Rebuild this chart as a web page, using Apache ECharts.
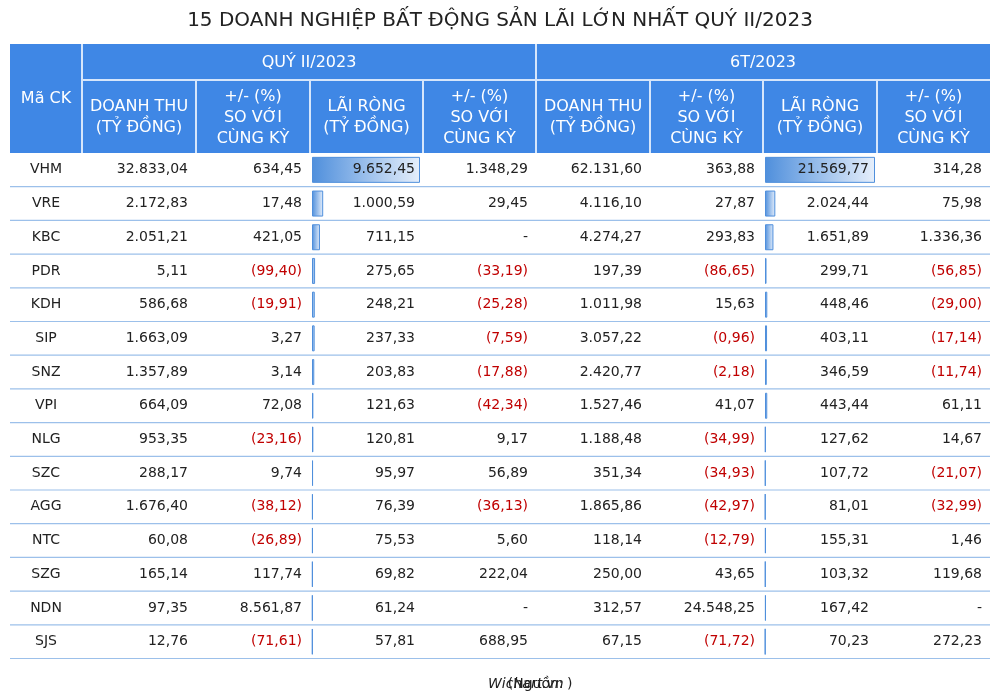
<!DOCTYPE html>
<html><head><meta charset="utf-8">
<script src="https://cdn.jsdelivr.net/npm/echarts@6/dist/echarts.min.js"></script>
<style>html,body{margin:0;background:#fff}#c{width:1000px;height:696px}</style></head>
<body><div id="c"></div>
<script>
const codes=['VHM','VRE','KBC','PDR','KDH','SIP','SNZ','VPI','NLG','SZC','AGG','NTC','SZG','NDN','SJS'];
const q2Revenue=['32.833,04','2.172,83','2.051,21','5,11','586,68','1.663,09','1.357,89','664,09','953,35','288,17','1.676,40','60,08','165,14','97,35','12,76'];
const q2RevChg=['634,45','17,48','421,05','(99,40)','(19,91)','3,27','3,14','72,08','(23,16)','9,74','(38,12)','(26,89)','117,74','8.561,87','(71,61)'];
const q2Profit=[9652.45,1000.59,711.15,275.65,248.21,237.33,203.83,121.63,120.81,95.97,76.39,75.53,69.82,61.24,57.81];
const q2ProfitChg=['1.348,29','29,45','-','(33,19)','(25,28)','(7,59)','(17,88)','(42,34)','9,17','56,89','(36,13)','5,60','222,04','-','688,95'];
const h1Revenue=['62.131,60','4.116,10','4.274,27','197,39','1.011,98','3.057,22','2.420,77','1.527,46','1.188,48','351,34','1.865,86','118,14','250,00','312,57','67,15'];
const h1RevChg=['363,88','27,87','293,83','(86,65)','15,63','(0,96)','(2,18)','41,07','(34,99)','(34,93)','(42,97)','(12,79)','43,65','24.548,25','(71,72)'];
const h1Profit=[21569.77,2024.44,1651.89,299.71,448.46,403.11,346.59,443.44,127.62,107.72,81.01,155.31,103.32,167.42,70.23];
const h1ProfitChg=['314,28','75,98','1.336,36','(56,85)','(29,00)','(17,14)','(11,74)','61,11','14,67','(21,07)','(32,99)','1,46','119,68','-','272,23'];
const title='15 DOANH NGHIỆP BẤT ĐỘNG SẢN LÃI LỚN NHẤT QUÝ II/2023';
const groupHeaders=['QUÝ II/2023','6T/2023'];
const colHeaders=['DOANH THU\n(TỶ ĐỒNG)','+/- (%)\nSO VỚI\nCÙNG KỲ','LÃI RÒNG\n(TỶ ĐỒNG)','+/- (%)\nSO VỚI\nCÙNG KỲ','DOANH THU\n(TỶ ĐỒNG)','+/- (%)\nSO VỚI\nCÙNG KỲ','LÃI RÒNG\n(TỶ ĐỒNG)','+/- (%)\nSO VỚI\nCÙNG KỲ'];
const source='(Nguồn: ';const sourceIt='Wichart.vn';

const fmt=v=>{let [i,d]=v.toFixed(2).split('.');return i.replace(/\B(?=(\d{3})+(?!\d))/g,'.')+','+d;};
const colX=[10,82,196,310,423,536,650,763,877,990];
const T=153,RH=33.7,HB=44,HM=80;
const F='Tahoma, "DejaVu Sans", Verdana, sans-serif';
const cols=[q2Revenue,q2RevChg,q2Profit.map(fmt),q2ProfitChg,h1Revenue,h1RevChg,h1Profit.map(fmt),h1ProfitChg];
const HC='#3f87e5';
const chart=echarts.init(document.getElementById('c'));
function cells(api){
  const c=(x,y)=>api.coord([x,y]);
  const ch=[];
  const rect=(x0,y0,x1,y1,fill)=>{const a=c(x0,y0),b=c(x1,y1);ch.push({type:'rect',shape:{x:a[0],y:a[1],width:b[0]-a[0],height:b[1]-a[1]},style:{fill}});};
  const txt=(s,x,y,o)=>{const p=c(x,y);ch.push({type:'text',x:p[0],y:p[1],z2:10,style:Object.assign({text:s,font:'14px '+F,fill:'#222',align:'center',verticalAlign:'middle'},o)});};
  const line=(x0,y0,x1,y1,col,w)=>{const a=c(x0,y0),b=c(x1,y1);ch.push({type:'line',shape:{x1:a[0],y1:a[1],x2:b[0],y2:b[1]},style:{stroke:col,lineWidth:w||1}});};
  rect(colX[0],HB,colX[9],T,HC);
  line(colX[1],HM,colX[9],HM,'#d6e6fb',2);
  [1,5].forEach(i=>line(colX[i],HB,colX[i],T,'#d6e6fb',2));
  [2,3,4,6,7,8].forEach(i=>line(colX[i],HM,colX[i],T,'#d6e6fb',2));
  txt('Mã CK',(colX[0]+colX[1])/2,(HB+T)/2,{fill:'#fff',font:'16px '+F});
  txt(groupHeaders[0],(colX[1]+colX[5])/2,(HB+HM)/2+1,{fill:'#fff',font:'16px '+F});
  txt(groupHeaders[1],(colX[5]+colX[9])/2,(HB+HM)/2+1,{fill:'#fff',font:'16px '+F});
  colHeaders.forEach((h,i)=>txt(h,(colX[i+1]+colX[i+2])/2,(HM+T)/2+1,{fill:'#fff',font:'16px '+F,lineHeight:21}));
  for(let r=0;r<15;r++){
    const yc=T+RH*(r+0.5);
    line(colX[0],T+RH*(r+1),colX[9],T+RH*(r+1),'#9cc0ea',1.2);
    txt(codes[r],46,yc);
    cols.forEach((col,i)=>{const s=col[r];txt(s,colX[i+2]-8,yc,{align:'right',fill:s[0]==='('?'#c00000':'#222'});});
  }
  return {type:'group',children:ch};
}
const grids=[{left:0,top:0,width:1000,height:696}];
const barGrid=(left,w)=>({left,width:w,top:T,height:RH*15});
grids.push(barGrid(312,108),barGrid(765,110));
const barStyle={color:new echarts.graphic.LinearGradient(0,0,1,0,[{offset:0,color:'#4f8fdc'},{offset:1,color:'#e6effb'}]),borderColor:'#4f8fdc',borderWidth:1};
chart.setOption({
  animation:false,
  title:{text:title,left:'center',top:6,textStyle:{fontFamily:F,fontSize:20,fontWeight:'normal',color:'#222'}},
  graphic:[{type:'text',right:432,top:677,style:{text:source,font:'14px '+F,fill:'#222'}},
           {type:'text',left:488,top:677,style:{text:sourceIt,font:'italic 14px '+F,fill:'#222'}},
           {type:'text',left:567,top:677,style:{text:')',font:'14px '+F,fill:'#222'}}],
  grid:grids,
  xAxis:[{gridIndex:0,type:'value',min:0,max:1000,show:false},
         {gridIndex:1,type:'value',min:0,max:q2Profit[0],show:false},
         {gridIndex:2,type:'value',min:0,max:h1Profit[0],show:false}],
  yAxis:[{gridIndex:0,type:'value',min:0,max:696,inverse:true,show:false},
         {gridIndex:1,type:'category',data:codes,inverse:true,show:false},
         {gridIndex:2,type:'category',data:codes,inverse:true,show:false}],
  series:[
    {type:'custom',xAxisIndex:0,yAxisIndex:0,data:[[0,0]],renderItem:(p,api)=>cells(api),z:1},
    {type:'bar',xAxisIndex:1,yAxisIndex:1,data:q2Profit,barWidth:26,itemStyle:barStyle,z:0},
    {type:'bar',xAxisIndex:2,yAxisIndex:2,data:h1Profit,barWidth:26,itemStyle:barStyle,z:0}
  ]
});
</script></body></html>
